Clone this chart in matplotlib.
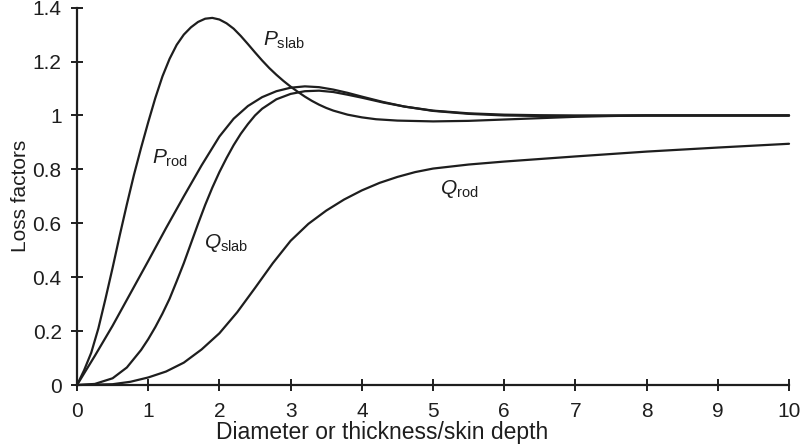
import numpy as np
import matplotlib
matplotlib.use("Agg")
import matplotlib.pyplot as plt

plt.rcParams['font.family'] = ['Liberation Sans', 'DejaVu Sans']
plt.rcParams['mathtext.fontset'] = 'custom'
plt.rcParams['mathtext.rm'] = 'Liberation Sans'
plt.rcParams['mathtext.it'] = 'Liberation Sans:italic'

# values
p_slab_x = [0, 0.1, 0.2, 0.3, 0.4, 0.5, 0.6, 0.7, 0.8, 0.9, 1.0, 1.1, 1.2, 1.3, 1.4,
            1.5, 1.6, 1.7, 1.8, 1.9, 2.0, 2.1, 2.2, 2.3, 2.4, 2.5, 2.6, 2.7, 2.8, 2.9,
            3.0, 3.1, 3.2, 3.3, 3.4, 3.5, 3.6, 3.8, 4.0, 4.2, 4.5, 5.0, 5.5, 6.0, 6.5,
            7.0, 7.5, 8.0, 9.0, 10]
p_slab_y = [0, 0.055, 0.12, 0.21, 0.32, 0.435, 0.555, 0.67, 0.78, 0.88, 0.975, 1.065,
            1.145, 1.21, 1.262, 1.3, 1.327, 1.347, 1.359, 1.362, 1.356, 1.342, 1.322,
            1.295, 1.265, 1.234, 1.204, 1.176, 1.151, 1.128, 1.107, 1.088, 1.07, 1.054,
            1.04, 1.028, 1.018, 1.003, 0.993, 0.986, 0.981, 0.978, 0.98, 0.985, 0.99,
            0.995, 0.998, 1.0, 1.0, 1.0]

p_rod_x = [0, 0.25, 0.5, 0.75, 1.0, 1.25, 1.5, 1.75, 2.0, 2.2, 2.4, 2.6, 2.8, 3.0,
           3.2, 3.4, 3.6, 3.8, 4.0, 4.3, 4.6, 5.0, 5.5, 6.0, 6.5, 7.0, 8.0, 10]
p_rod_y = [0, 0.108, 0.22, 0.34, 0.46, 0.582, 0.7, 0.815, 0.922, 0.988, 1.035, 1.068,
           1.09, 1.103, 1.108, 1.105, 1.096, 1.084, 1.07, 1.05, 1.033, 1.018, 1.008,
           1.003, 1.001, 1.0, 1.0, 1.0]

q_slab_x = [0, 0.25, 0.5, 0.7, 0.9, 1.0, 1.1, 1.2, 1.3, 1.4, 1.5, 1.6, 1.7, 1.8,
            1.9, 2.0, 2.1, 2.2, 2.3, 2.4, 2.5, 2.6, 2.8, 3.0, 3.2, 3.4, 3.6, 3.8, 4.0,
            4.3, 4.6, 5.0, 5.5, 6.0, 6.5, 7.0, 8.0, 10]
q_slab_y = [0, 0.004, 0.025, 0.065, 0.13, 0.17, 0.215, 0.265, 0.32, 0.385, 0.452,
            0.525, 0.598, 0.668, 0.732, 0.79, 0.842, 0.89, 0.932, 0.968, 1.0, 1.025,
            1.06, 1.08, 1.09, 1.092, 1.087, 1.077, 1.066, 1.048, 1.033, 1.017, 1.006,
            1.0, 0.998, 0.998, 1.0, 1.0]

q_rod_x = [0, 0.5, 0.75, 1.0, 1.25, 1.5, 1.75, 2.0, 2.25, 2.5, 2.75, 3.0, 3.25,
           3.5, 3.75, 4.0, 4.25, 4.5, 4.75, 5.0, 5.5, 6.0, 7.0, 8.0, 9.0, 10]
q_rod_y = [0, 0.003, 0.012, 0.028, 0.05, 0.083, 0.132, 0.192, 0.27, 0.36, 0.452,
           0.535, 0.598, 0.647, 0.688, 0.722, 0.75, 0.772, 0.79, 0.803, 0.818, 0.829,
           0.848, 0.866, 0.881, 0.895]

x_ticks = list(range(0, 11))
y_ticks = [0, 0.2, 0.4, 0.6, 0.8, 1.0, 1.2, 1.4]
y_tick_labels = ['0', '0.2', '0.4', '0.6', '0.8', '1', '1.2', '1.4']

ink = '#1e1e1e'

fig = plt.figure(figsize=(8.03, 4.45), dpi=100)
ax = fig.add_axes([0.0959, 0.1348, 0.8867, 0.848])

for xs, ys in [(p_slab_x, p_slab_y), (p_rod_x, p_rod_y),
               (q_slab_x, q_slab_y), (q_rod_x, q_rod_y)]:
    ax.plot(xs, ys, color=ink, lw=1.6, solid_joinstyle='round',
            solid_capstyle='round', clip_on=False)

ax.set_xlim(0, 10)
ax.set_ylim(0, 1.4)
ax.set_xticks(x_ticks)
ax.set_yticks(y_ticks)
ax.set_yticklabels(y_tick_labels)
for s in ['top', 'right']:
    ax.spines[s].set_visible(False)
for s in ['left', 'bottom']:
    ax.spines[s].set_linewidth(1.6)
    ax.spines[s].set_color(ink)
ax.tick_params(direction='inout', length=8, width=1.4, color=ink,
               labelsize=15, labelcolor=ink)
ax.tick_params(axis='x', pad=8)
ax.tick_params(axis='y', pad=7)

ax.set_ylabel('Loss factors', fontsize=15, color=ink)
ax.yaxis.set_label_coords(-0.066, 0.5)
ax.text(4.29, -0.2, 'Diameter or thickness/skin depth', fontsize=16.5, color=ink,
        ha='center', va='baseline', transform=ax.transData)

lab = dict(fontsize=15, color=ink, ha='left', va='baseline')
ax.text(2.61, 1.26, r'$P_{\mathrm{slab}}$', **lab)
ax.text(1.05, 0.82, r'$P_{\mathrm{rod}}$', **lab)
ax.text(1.78, 0.51, r'$Q_{\mathrm{slab}}$', **lab)
ax.text(5.1, 0.71, r'$Q_{\mathrm{rod}}$', **lab)

fig.savefig('out.png', dpi=100)
